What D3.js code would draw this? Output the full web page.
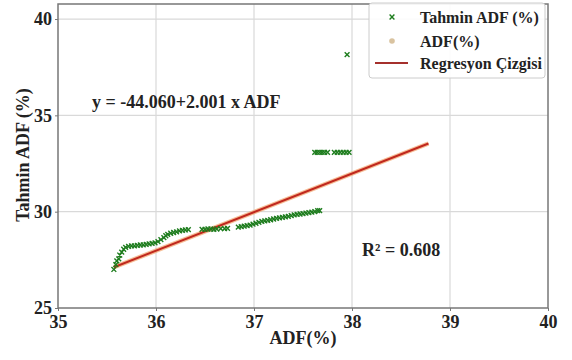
<!DOCTYPE html>
<html><head><meta charset="utf-8">
<script src="https://cdn.jsdelivr.net/npm/d3@7"></script>
<style>body{margin:0;background:#fff}svg{display:block}text{font-family:"Liberation Serif","Times New Roman",serif;font-weight:bold;fill:#222}</style>
</head><body><svg id="c" width="572" height="360"></svg>
<script>
const xTicks = [35, 36, 37, 38, 39, 40];
const yTicks = [25, 30, 35, 40];
const adfX = [35.57,35.59,35.60,35.62,35.63,35.65,35.67,35.69,35.72,35.75,35.78,35.81,35.84,35.87,35.90,35.93,35.96,35.99,36.02,36.05,36.08,36.10,36.12,36.15,36.18,36.21,36.24,36.27,36.30,36.33,
36.47,36.50,36.53,36.56,36.59,36.62,36.66,36.70,36.73,
36.84,36.87,36.90,36.93,36.96,36.99,37.02,37.05,37.08,37.11,37.14,37.17,37.20,37.23,37.26,37.29,37.32,37.35,37.38,37.41,37.44,37.47,37.50,37.53,37.56,37.59,37.62,37.65,37.67,
37.62,37.645,37.67,37.695,37.72,37.75,37.82,37.85,37.88,37.91,37.94,37.97,
37.95];
const tahminY = [27.00,27.25,27.45,27.55,27.75,27.90,28.05,28.15,28.20,28.22,28.22,28.25,28.27,28.28,28.30,28.33,28.35,28.38,28.45,28.55,28.65,28.75,28.82,28.88,28.92,28.95,29.00,29.03,29.05,29.07,
29.08,29.08,29.10,29.10,29.08,29.10,29.12,29.12,29.13,
29.20,29.22,29.25,29.28,29.30,29.35,29.40,29.45,29.50,29.52,29.55,29.58,29.62,29.65,29.68,29.70,29.73,29.76,29.80,29.83,29.86,29.88,29.90,29.93,29.95,29.98,30.00,30.05,30.05,
33.08,33.08,33.08,33.08,33.08,33.08,33.08,33.08,33.08,33.08,33.08,33.08,
38.15];
const intercept = -44.060, slope = 2.001;
const lineX = [35.57, 38.78];
const legendLabels = ["Tahmin ADF (%)", "ADF(%)", "Regresyon Çizgisi"];
const eqText = "y = -44.060+2.001 x ADF";
const r2Text = "R² = 0.608";

const svg = d3.select("#c");
const L = 58, T = 4, R = 548, B = 308;
const x = d3.scaleLinear().domain([35, 40]).range([L, R]);
const y = d3.scaleLinear().domain([25, 40.78]).range([B, T]);

// grid
svg.append("g").selectAll("line").data(xTicks.slice(1, -1)).join("line")
  .attr("x1", d => x(d)).attr("x2", d => x(d)).attr("y1", T).attr("y2", B)
  .attr("stroke", "#d9d9d9").attr("stroke-width", 1.2);
svg.append("g").selectAll("line").data(yTicks.slice(1)).join("line")
  .attr("y1", d => y(d)).attr("y2", d => y(d)).attr("x1", L).attr("x2", R)
  .attr("stroke", "#d9d9d9").attr("stroke-width", 1.2);

// axes
const xa = svg.append("g").attr("transform", `translate(0,${B})`)
  .call(d3.axisBottom(x).tickValues(xTicks).tickSize(3).tickPadding(4).tickFormat(d3.format("d")));
const ya = svg.append("g").attr("transform", `translate(${L},0)`)
  .call(d3.axisLeft(y).tickValues(yTicks).tickSize(3).tickPadding(3).tickFormat(d3.format("d")));
[xa, ya].forEach(g => {
  g.select(".domain").remove();
  g.selectAll("line").attr("stroke", "#777");
  g.selectAll("text").style("font-size", "18px").style("font-family", '"Liberation Serif",serif').style("font-weight", "bold").attr("fill", "#222");
});
// frame
svg.append("rect").attr("x", L).attr("y", T).attr("width", R - L).attr("height", B - T)
  .attr("fill", "none").attr("stroke", "#777").attr("stroke-width", 1.5);

// regression line
const lineGen = d3.line().x(d => x(d)).y(d => y(intercept + slope * d));
svg.append("path").datum(lineX).attr("d", lineGen).attr("fill", "none")
  .attr("stroke", "#f2a36b").attr("stroke-width", 4.5).attr("stroke-opacity", 0.7);
svg.append("path").datum(lineX).attr("d", lineGen).attr("fill", "none")
  .attr("stroke", "#c0281e").attr("stroke-width", 2);

// scatter x markers
const pts = adfX.map((v, i) => [v, tahminY[i]]);
const s = 2.4;
svg.append("g").selectAll("path").data(pts).join("path")
  .attr("d", d => { const cx = x(d[0]), cy = y(d[1]);
    return `M${cx-s},${cy-s}L${cx+s},${cy+s}M${cx-s},${cy+s}L${cx+s},${cy-s}`; })
  .attr("stroke", "#1e7d1e").attr("stroke-width", 1.4).attr("fill", "none");

// annotations
svg.append("text").attr("x", 92).attr("y", 108).style("font-size", "18px").text(eqText);
svg.append("text").attr("x", 362).attr("y", 256).style("font-size", "18px").text(r2Text);

// axis labels
svg.append("text").attr("x", 303).attr("y", 344).attr("text-anchor", "middle").style("font-size", "18px").text("ADF(%)");
svg.append("text").attr("transform", "translate(29,155) rotate(-90)").attr("text-anchor", "middle").style("font-size", "18px").text("Tahmin ADF (%)");

// legend
const lg = svg.append("g");
lg.append("rect").attr("x", 369).attr("y", 3).attr("width", 176).attr("height", 75).attr("rx", 3)
  .attr("fill", "#fff").attr("fill-opacity", 0.9).attr("stroke", "#ccc");
const rows = [17, 41, 63];
const mx = 392, my = rows[0];
lg.append("path").attr("d", `M${mx-s},${my-s}L${mx+s},${my+s}M${mx-s},${my+s}L${mx+s},${my-s}`)
  .attr("stroke", "#1e7d1e").attr("stroke-width", 1.4);
lg.append("circle").attr("cx", 392).attr("cy", rows[1]).attr("r", 2.8).attr("fill", "#d9c3a0");
lg.append("line").attr("x1", 375).attr("x2", 408).attr("y1", rows[2]).attr("y2", rows[2])
  .attr("stroke", "#a5302c").attr("stroke-width", 2);
lg.selectAll("text.l").data(legendLabels).join("text").attr("class", "l")
  .attr("x", 420).attr("y", (d, i) => rows[i]).attr("dy", "0.35em").style("font-size", "16px").text(d => d);
</script></body></html>
